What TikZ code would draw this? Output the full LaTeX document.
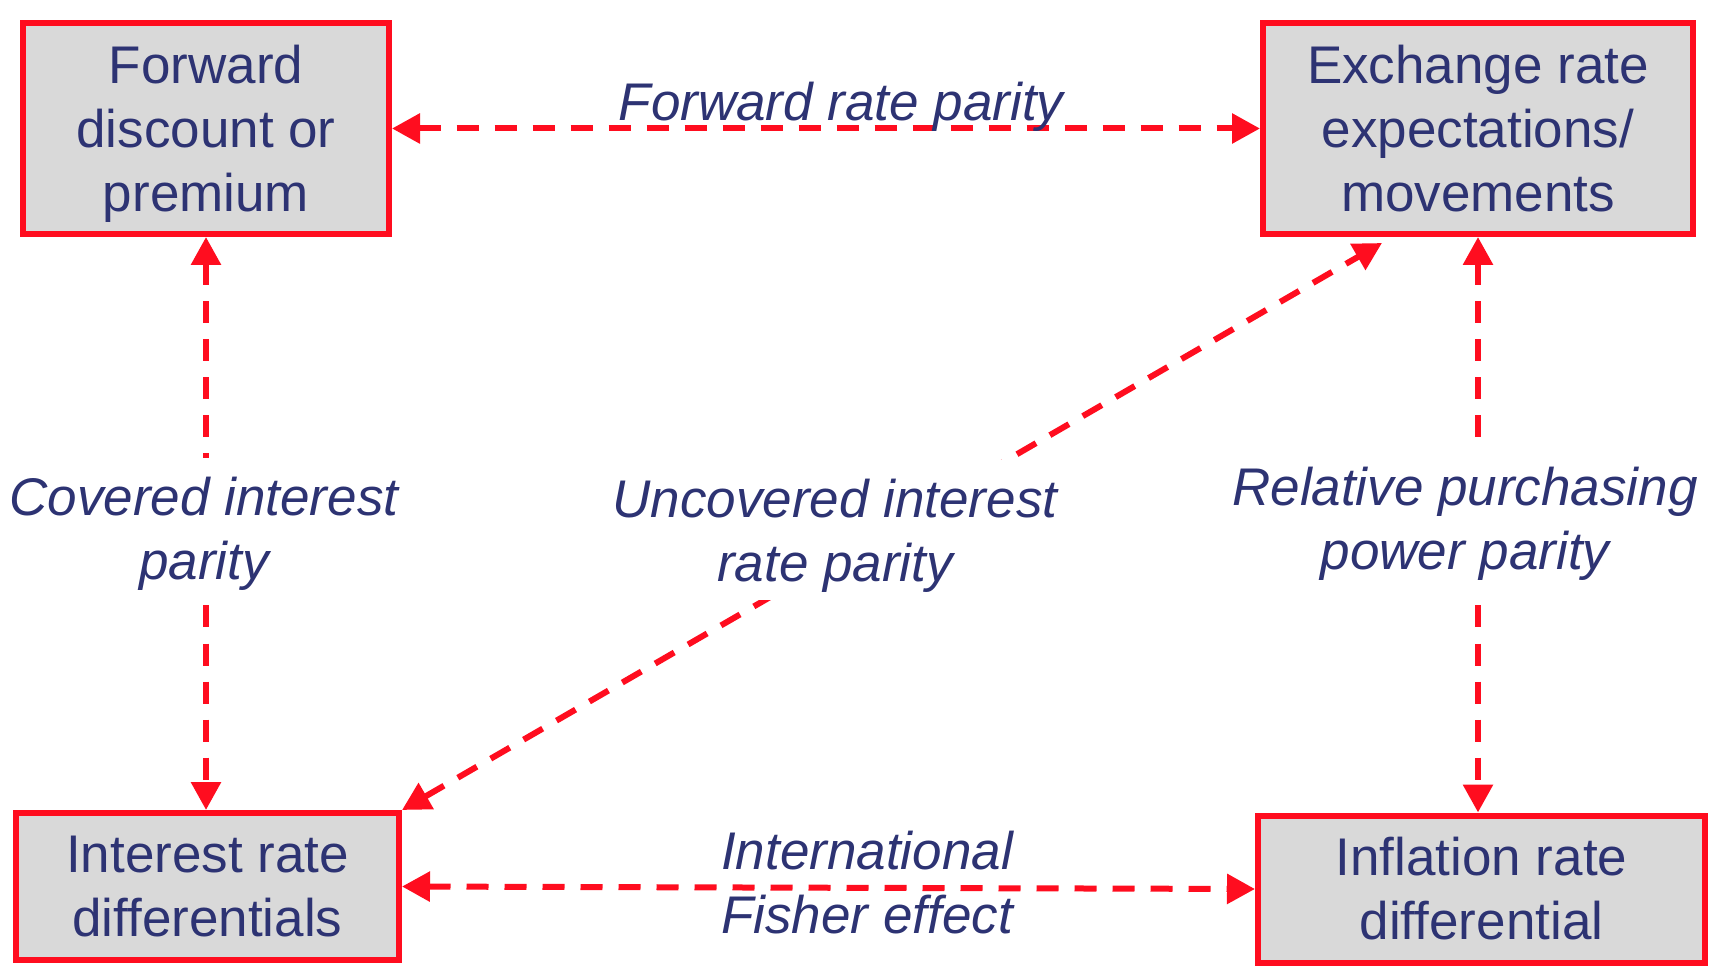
\documentclass[tikz,border=0pt]{standalone}
\usepackage{fontspec}
\setmainfont{Liberation Sans}
\usetikzlibrary{arrows.meta}
\definecolor{bred}{HTML}{FF0D1F}
\definecolor{navy}{HTML}{2D3373}
\definecolor{boxgray}{HTML}{D9D9D9}
\newcommand{\nodepth}[1]{\raisebox{0pt}[\height][0pt]{#1}}
\tikzset{
  pbox/.style={draw=bred, line width=3pt, fill=boxgray, text=navy, align=center,
    font=\fontsize{26.5}{32}\selectfont, inner sep=0pt},
  link/.style={draw=bred, line width=3pt, dash pattern=on 11pt off 8pt,
    {Triangle[length=14pt,width=14.5pt]}-{Triangle[length=14pt,width=14.5pt]}},
  lab/.style={text=navy, align=center, font=\fontsize{26.5}{32}\selectfont\itshape, inner sep=0pt},
  labw/.style={lab, fill=white, inner xsep=3pt, inner ysep=9.5pt},
}
\begin{document}
\begin{tikzpicture}[x=0.5pt,y=-0.5pt]
\useasboundingbox (0,0) rectangle (1720,978);
\node[pbox, minimum width=183pt, minimum height=105.5pt] (fwd) at (206,128.5) {Forward\\discount or\\\nodepth{premium}};
\node[pbox, minimum width=215pt, minimum height=105.5pt] (exr) at (1478,128.5) {Exchange rate\\expectations/\\movements};
\node[pbox, minimum width=191.5pt, minimum height=73.5pt] (ird) at (207.5,886.5) {Interest rate\\differentials};
\node[pbox, minimum width=223.5pt, minimum height=73.5pt] (inf) at (1481.5,889) {Inflation rate\\differential};

\draw[link] (fwd.east) -- (exr.west);
\draw[link] (fwd.south) -- (fwd.south |- ird.north);
\draw[link] (exr.south) -- (exr.south |- inf.north);
\draw[link] (ird.east) -- (inf.west);
\draw[link] (ird.north east) -- ([xshift=61pt,yshift=-3pt]exr.south west);

\node[lab, anchor=base] (lfrp) at (841,121) {Forward rate parity};
\node[lab] (life) at (867,883) {International\\Fisher effect};
\node[labw] (lcip) at (204,528.5) {Covered interest\\\nodepth{parity}};
\node[labw] (luip) at (835,530) {Uncovered interest\\\nodepth{rate parity}};
\node[labw] (lppp) at (1465,518.5) {Relative purchasing\\\nodepth{power parity}};
\end{tikzpicture}
\end{document}
